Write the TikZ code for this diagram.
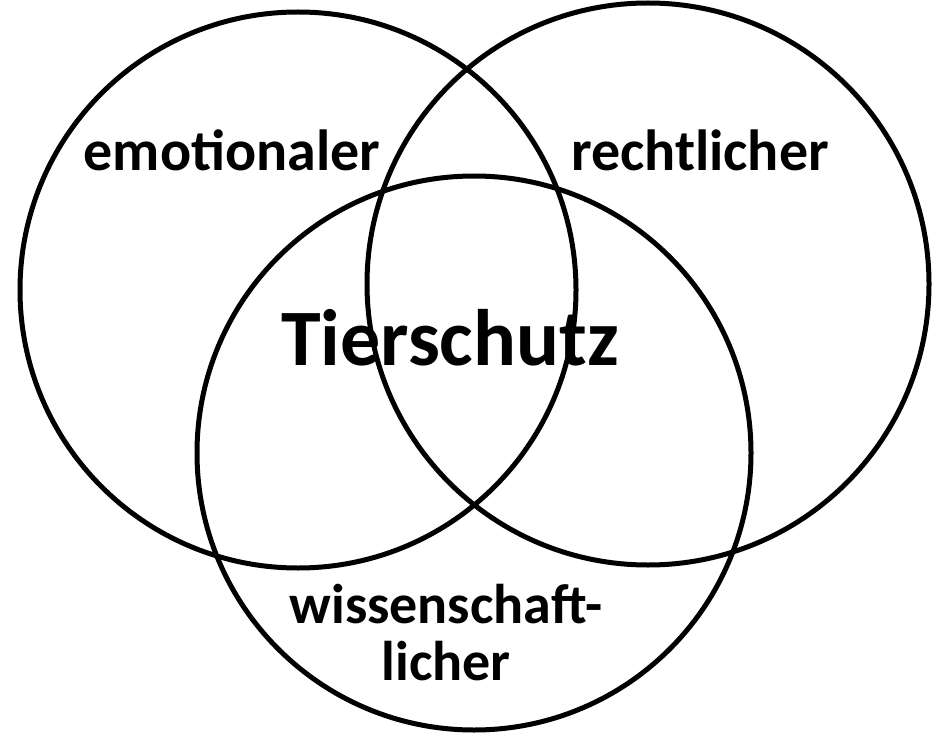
\documentclass[tikz,border=0pt]{standalone}
\usepackage{fontspec}
\setmainfont{Carlito}
\begin{document}
\begin{tikzpicture}[x=1pt, y=-1pt, font=\bfseries]
	\useasboundingbox (0,0) rectangle (945,738);

	% three circles
	\draw[line width=5pt] (298,290) circle (278);
	\draw[line width=5pt] (648,284) circle (281);
	\draw[line width=5pt] (474,453) circle (277);

	\node (emo) at (232,150) {\fontsize{58}{62}\selectfont emotionaler};
	\node (recht) at (700,150) {\fontsize{58}{62}\selectfont rechtlicher};
	\node (tier) at (450,338) {\fontsize{80}{88}\selectfont Tierschutz};
	\node[align=center, font=\bfseries\fontsize{56}{57}\selectfont] (wiss) at (446,633) {wissenschaft-\\licher};
\end{tikzpicture}
\end{document}
